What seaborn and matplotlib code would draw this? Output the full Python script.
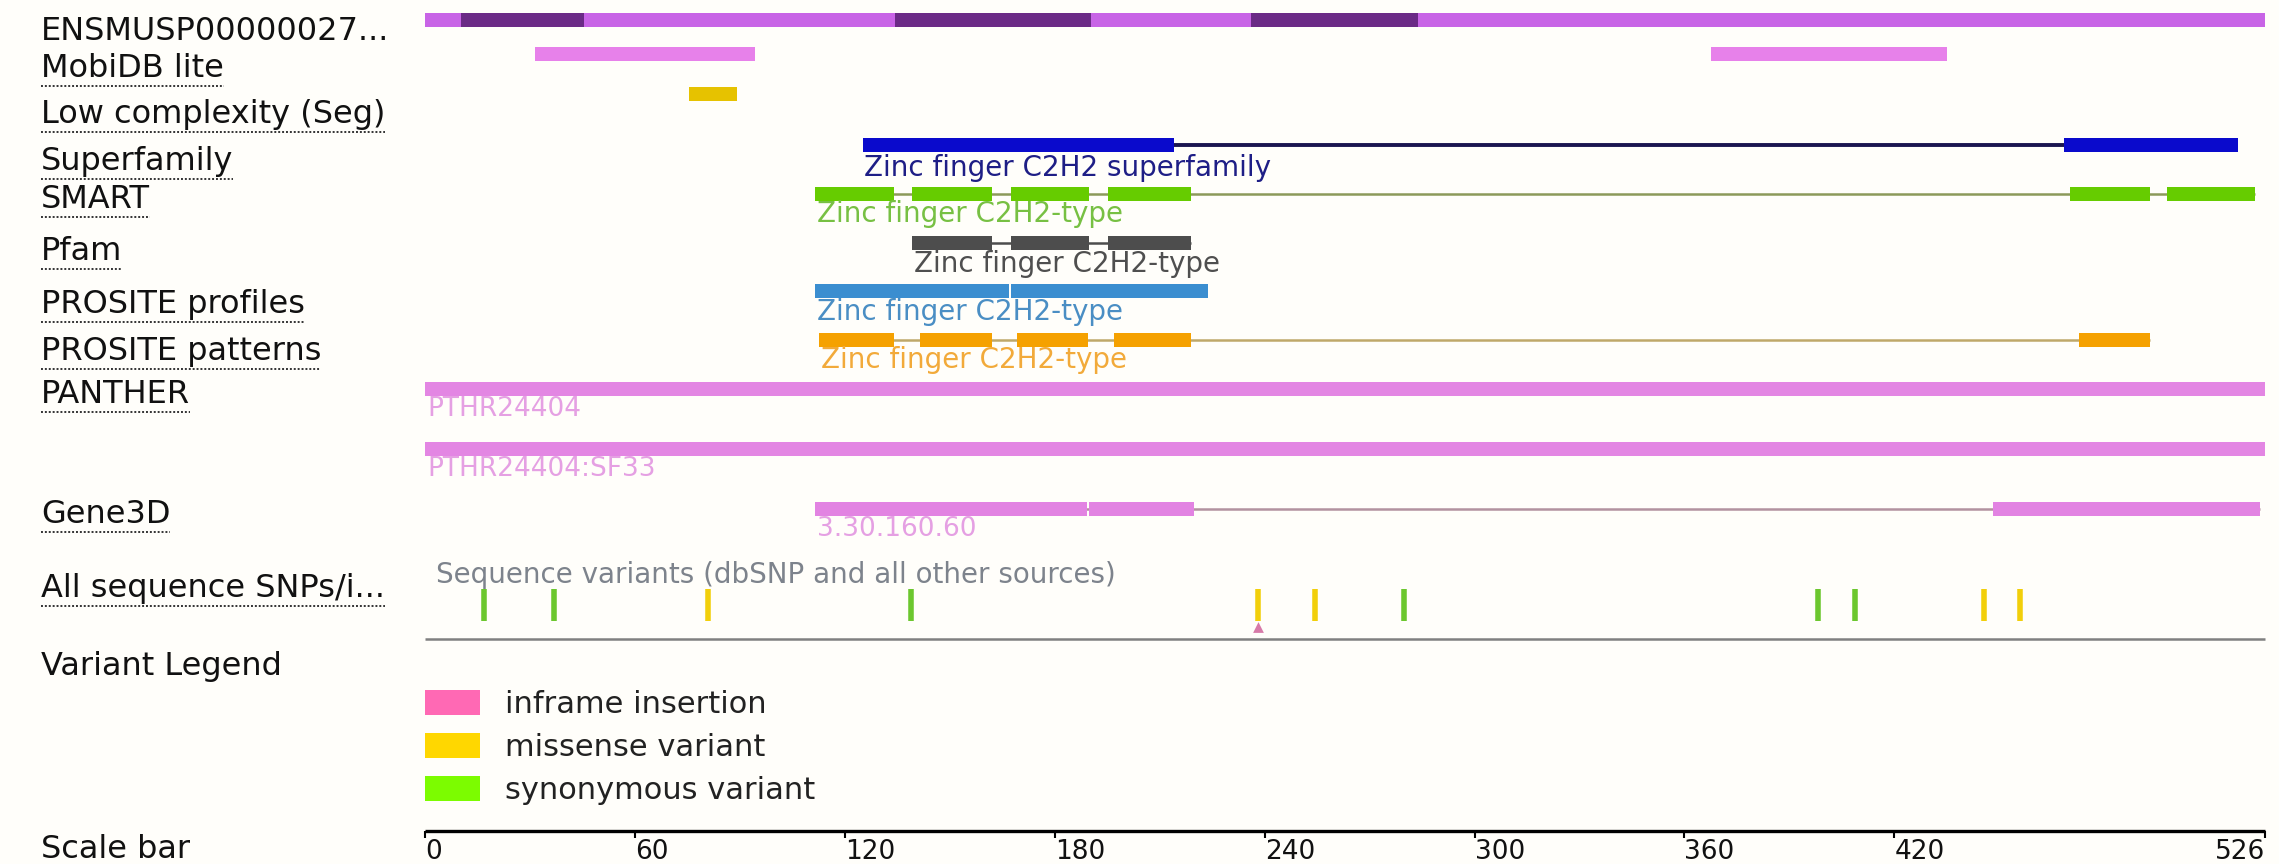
import matplotlib
matplotlib.use("Agg")
import matplotlib.pyplot as plt
from matplotlib.patches import Rectangle
import pandas as pd
import seaborn as sns

# ---- data ----
PROTEIN_LENGTH = 526
SCALE_TICKS = [0, 60, 120, 180, 240, 300, 360, 420, 526]

ROW_LABELS = ["ENSMUSP00000027...", "MobiDB lite", "Low complexity (Seg)",
              "Superfamily", "SMART", "Pfam", "PROSITE profiles",
              "PROSITE patterns", "PANTHER", "Gene3D",
              "All sequence SNPs/i...", "Variant Legend", "Scale bar"]
UNDERLINED = [False, True, True, True, True, True, True, True, True, True,
              True, False, False]

TRANSCRIPT = [(0, 526)]
TRANSCRIPT_DARK = [(10.1, 45.4), (134.2, 190.2), (236.1, 283.9)]
MOBIDB = [(31.2, 94.2), (367.5, 435.0)]
LOW_COMPLEXITY = [(75.3, 89.2)]
SUPERFAMILY = [(125.0, 214.0), (468.6, 518.2)]
SMART = [(111.5, 134.1), (139.2, 161.9), (167.5, 189.7), (195.2, 218.8),
         (470.2, 493.1), (497.9, 523.1)]
PFAM = [(139.2, 161.9), (167.5, 189.7), (195.2, 218.8)]
PROSITE_PROFILES = [(111.5, 166.9), (167.4, 223.8)]
PROSITE_PATTERNS = [(112.6, 134.1), (141.4, 161.9), (169.1, 189.5),
                    (196.8, 218.8), (472.7, 493.1)]
PANTHER = [(0, 526)]
PANTHER_SF = [(0, 526)]
GENE3D = [(111.5, 189.3), (189.7, 219.8), (448.3, 524.7)]

DOMAIN_NAMES = ["Zinc finger C2H2 superfamily", "Zinc finger C2H2-type",
                "Zinc finger C2H2-type", "Zinc finger C2H2-type",
                "Zinc finger C2H2-type", "PTHR24404", "PTHR24404:SF33",
                "3.30.160.60"]

VARIANT_POS = [16.6, 36.8, 80.8, 138.8, 238.2, 254.5, 279.9, 398.2, 408.8,
               445.8, 456.1]
VARIANT_TYPE = ["synonymous", "synonymous", "missense", "synonymous",
                "missense", "missense", "synonymous", "synonymous",
                "synonymous", "missense", "missense"]
INSERTION_POS = [238.2]

LEGEND_LABELS = ["inframe insertion", "missense variant", "synonymous variant"]
LEGEND_COLORS = ["#ff69b4", "#ffd700", "#7cfc00"]

# ---- layout ----
W, H, DPI = 2279, 864, 100
X0, PX_PER_AA = 425.5, 3.497
BG = "#fffefa"


def to_x(px):
    return (px - X0) / PX_PER_AA


sns.set_theme(style="white")
plt.rcParams["font.family"] = ["DejaVu Sans"]

fig = plt.figure(figsize=(W / DPI, H / DPI), dpi=DPI, facecolor=BG)
ax = fig.add_axes([0, 0, 1, 1])
ax.set_facecolor(BG)


def draw_blocks(segments, y, color, h=14, line=None, lw=1.5):
    if line is not None and len(segments) > 1:
        ax.plot([segments[0][0], segments[-1][1]], [y, y], color=line, lw=lw,
                zorder=1, solid_capstyle="butt")
    ax.barh([y] * len(segments), [e - s for s, e in segments],
            left=[s for s, _ in segments], height=h, color=color,
            linewidth=0, zorder=2)


# transcript / exons
draw_blocks(TRANSCRIPT, 19.5, "#c864e6")
draw_blocks(TRANSCRIPT_DARK, 19.5, "#6b2a86")
draw_blocks(MOBIDB, 54, "#e781ea")
draw_blocks(LOW_COMPLEXITY, 94, "#e6c200")

tracks = [
    (SUPERFAMILY, 145, "#0a0acc", "#1b1650", 2.8, 176, "#1e1e86"),
    (SMART, 194, "#66cc00", "#8c9a5a", 1.8, 222, "#77c043"),
    (PFAM, 242.5, "#4d4d4d", "#4d4d4d", 1.8, 272, "#4f4f4f"),
    (PROSITE_PROFILES, 291, "#3b8ed0", None, 1.8, 320, "#4a8ec4"),
    (PROSITE_PATTERNS, 340, "#f5a100", "#bfa869", 1.8, 368, "#f2aa3a"),
    (PANTHER, 388.5, "#e386e3", None, 1.8, 416, "#e5a0e3"),
    (PANTHER_SF, 449, "#e386e3", None, 1.8, 476, "#e5a0e3"),
    (GENE3D, 509, "#e283e2", "#b2929f", 1.8, 536, "#e5a0e3"),
]
for (segs, y, col, line, lw, lab_y, lab_col), name in zip(tracks, DOMAIN_NAMES):
    draw_blocks(segs, y, col, line=line, lw=lw)
    size = 19 if name.startswith("PTHR") or name[0].isdigit() else 20
    ax.text(segs[0][0] + 0.5, lab_y, name, color=lab_col, fontsize=size,
            va="baseline", ha="left")

# variants
ax.text(to_x(436), 583, "Sequence variants (dbSNP and all other sources)",
        color="#7d838c", fontsize=20, va="baseline")
variants = pd.DataFrame({"pos": VARIANT_POS, "type": VARIANT_TYPE})
variants["y"] = 605
sns.scatterplot(data=variants, x="pos", y="y", hue="type",
                palette={"missense": "#f2cf0a", "synonymous": "#6cc72e"},
                marker="|", s=560, linewidth=4, legend=False, ax=ax,
                zorder=3)
ax.scatter(INSERTION_POS, [627] * len(INSERTION_POS), marker="^", s=60,
           color="#d77aa8", zorder=4, linewidths=0)
ax.plot([0, PROTEIN_LENGTH], [639, 639], color="#808080", lw=1.8,
        solid_capstyle="butt")

# variant legend
for i, (lab, col) in enumerate(zip(LEGEND_LABELS, LEGEND_COLORS)):
    top = 690 + i * 43
    ax.add_patch(Rectangle((to_x(425), top), to_x(480) - to_x(425), 25,
                           color=col, linewidth=0))
    ax.text(to_x(505), top + 23, lab, fontsize=22, va="baseline",
            color="#222222")

# scale bar
ax.plot([0, PROTEIN_LENGTH], [831, 831], color="black", lw=2.4,
        solid_capstyle="butt")
ax.vlines(SCALE_TICKS, 831, 838, color="black", lw=1.5)
for t in SCALE_TICKS:
    ax.text(t, 859, str(t), fontsize=19, va="baseline",
            ha="right" if t == PROTEIN_LENGTH else "left", color="#111111")

# row labels
label_baselines = [40, 77, 123, 170, 208, 260, 313, 360, 403, 523, 597, 675, 858]
label_texts = []
for lab, yb in zip(ROW_LABELS, label_baselines):
    label_texts.append(ax.text(to_x(41), yb, lab, fontsize=23,
                               va="baseline", color="#111111"))

ax.set_xlim(to_x(0), to_x(W))
ax.set_ylim(H, 0)
ax.axis("off")

# dotted underlines under the track labels
fig.canvas.draw()
renderer = fig.canvas.get_renderer()
inv = ax.transData.inverted()
for txt, yb, under in zip(label_texts, label_baselines, UNDERLINED):
    if not under:
        continue
    bb = txt.get_window_extent(renderer)
    x0 = inv.transform((bb.x0, 0))[0]
    x1 = inv.transform((bb.x1, 0))[0]
    ax.plot([x0, x1], [yb + 9, yb + 9], color="#333333", lw=1.4,
            linestyle=(0, (1, 1)))

fig.savefig("out.png", dpi=DPI, facecolor=BG)
